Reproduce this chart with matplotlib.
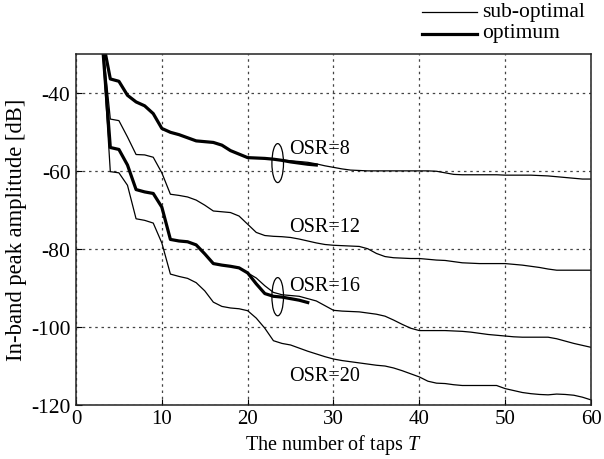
import matplotlib
matplotlib.use("Agg")
import matplotlib.pyplot as plt
from matplotlib.patches import Ellipse
from matplotlib.lines import Line2D

plt.rcParams['font.family'] = ['Liberation Serif', 'DejaVu Serif']
plt.rcParams['mathtext.fontset'] = 'custom'
plt.rcParams['mathtext.it'] = 'Liberation Serif:italic'
plt.rcParams['mathtext.rm'] = 'Liberation Serif'
plt.rcParams['axes.unicode_minus'] = False

# ---------------- data ----------------
taps_full = list(range(3, 61))

osr8_sub = [-25, -36.4, -37.0, -40.6, -42.3, -43.3, -45.3, -49.1, -50.1, -50.7,
            -51.5, -52.3, -52.5, -52.7, -53.4, -54.8, -55.7, -56.6, -56.7, -56.8,
            -57.0, -57.2, -57.4, -57.6, -57.8, -58.2, -58.7, -59.1, -59.5, -59.8,
            -59.9, -60.0, -60.0, -60.0, -60.0, -60.0, -60.0, -60.0, -60.0, -60.1,
            -60.5, -60.9, -61.0, -61.0, -61.0, -61.0, -61.0, -61.1, -61.1, -61.1,
            -61.1, -61.2, -61.3, -61.5, -61.7, -61.9, -62.1, -62.1]
taps_osr8_opt = list(range(3, 29))
osr8_opt = [-25, -36.4, -37.0, -40.6, -42.3, -43.3, -45.3, -49.1, -50.1, -50.7,
            -51.5, -52.3, -52.5, -52.7, -53.4, -54.8, -55.7, -56.6, -56.7, -56.8,
            -57.0, -57.3, -57.7, -58.0, -58.3, -58.5]

osr12_sub = [-25, -46.7, -47.1, -51.3, -55.8, -55.9, -56.5, -60.5, -66.0, -66.3,
             -66.7, -67.5, -68.8, -70.3, -70.5, -70.7, -71.6, -73.7, -75.8, -76.6,
             -76.8, -76.9, -77.1, -77.5, -78.0, -78.5, -78.9, -79.1, -79.2, -79.3,
             -79.4, -80.0, -81.2, -82.0, -82.3, -82.4, -82.5, -82.5, -82.7, -82.9,
             -83.0, -83.3, -83.6, -83.7, -83.8, -83.8, -83.8, -83.8, -84.0, -84.2,
             -84.5, -84.8, -85.2, -85.5, -85.5, -85.5, -85.5, -85.5]

osr16_sub = [-25, -54.0, -54.5, -58.5, -64.8, -65.4, -65.8, -69.3, -77.6, -78.0,
             -78.2, -79.0, -81.3, -83.8, -84.2, -84.5, -84.9, -86.2, -87.5, -89.5,
             -91.2, -91.8, -92.0, -92.2, -92.8, -93.4, -94.6, -95.8, -96.0, -96.1,
             -96.2, -96.5, -96.8, -97.3, -98.3, -99.4, -100.4, -101.0, -101.0, -101.0,
             -101.0, -101.1, -101.2, -101.4, -101.7, -102.0, -102.2, -102.4, -102.6, -102.7,
             -102.7, -102.7, -102.7, -103.1, -103.7, -104.3, -104.8, -105.3]
taps_osr16_opt = list(range(3, 28))
osr16_opt = [-25, -54.0, -54.5, -58.5, -64.8, -65.4, -65.8, -69.3, -77.6, -78.0,
             -78.2, -79.0, -81.3, -83.8, -84.2, -84.5, -84.9, -86.2, -89.0, -91.5,
             -92.2, -92.4, -92.8, -93.2, -93.8]

osr20_sub = [-25, -60.2, -60.5, -63.7, -72.3, -72.7, -73.4, -78.5, -86.5, -87.1,
             -87.6, -88.7, -90.8, -93.7, -94.8, -95.2, -95.4, -95.9, -97.8, -100.4,
             -103.6, -104.3, -104.7, -105.5, -106.3, -107.0, -107.7, -108.3, -108.7, -109.0,
             -109.3, -109.6, -109.9, -110.1, -110.6, -111.3, -112.1, -112.9, -114.0, -114.5,
             -114.6, -114.9, -115.1, -115.1, -115.1, -115.1, -115.1, -115.9, -116.4, -116.9,
             -117.2, -117.4, -117.5, -117.3, -117.4, -117.6, -118.1, -118.8]

osr_labels = ["OSR=8", "OSR=12", "OSR=16", "OSR=20"]
label_T = [24.8, 24.8, 24.8, 24.8]
label_v = [-54.2, -74.4, -89.4, -112.6]

legend_labels = ["sub-optimal", "optimum"]

xticks = [0, 10, 20, 30, 40, 50, 60]
yticks = [-120, -100, -80, -60, -40]

# ---------------- plot ----------------
fig = plt.figure(figsize=(6.04, 4.60), dpi=100)
ax = fig.add_axes([0.1258, 0.1183, 0.8527, 0.7621])

thin = dict(color='black', lw=0.9, solid_joinstyle='round')
thick = dict(color='black', lw=2.3, solid_joinstyle='round')

for ser in (osr8_sub, osr12_sub, osr16_sub, osr20_sub):
    ax.plot(taps_full, ser, **thin)
ax.plot(taps_osr8_opt, osr8_opt, **thick)
ax.plot(taps_osr16_opt, osr16_opt, **thick)

ax.set_xlim(0, 60)
ax.set_ylim(-120, -30)
ax.set_xticks(xticks)
ax.set_yticks(yticks)
ax.grid(True, color='#444444', linestyle=(0, (2, 3)), lw=0.9)
ax.tick_params(axis='y', direction='in', length=4, labelsize=15.5, pad=4)
ax.tick_params(axis='x', direction='in', length=4, labelsize=15, pad=3)
for s in ax.spines.values():
    s.set_linewidth(1.1)
    s.set_color('#222222')

ax.set_xlabel("The number of taps $T$", fontsize=14.5, labelpad=3)
ax.set_ylabel("In-band peak amplitude [dB]", fontsize=16.3, labelpad=3)

for lab, t, v in zip(osr_labels, label_T, label_v):
    ax.text(t, v, lab, fontsize=14.5, ha='left', va='center')

ax.add_patch(Ellipse((23.5, -58.0), 1.35, 10.0, fill=False, lw=0.9, color='black'))
ax.add_patch(Ellipse((23.5, -92.3), 1.35, 9.8, fill=False, lw=0.9, color='black'))

# legend (outside, top right)
W, H = 604.0, 460.0
leg_y = [13.3, 34.5]
for (sty, lab, yy) in zip((thin, thick), legend_labels, leg_y):
    fig.add_artist(Line2D([421.7 / W, 476.7 / W], [1 - yy / H, 1 - yy / H],
                          transform=fig.transFigure, **sty))
    fig.text(481.7 / W, 1 - (yy - 1) / H, lab, fontsize=15.5,
             ha='left', va='center')

fig.savefig("out.png", dpi=100)
